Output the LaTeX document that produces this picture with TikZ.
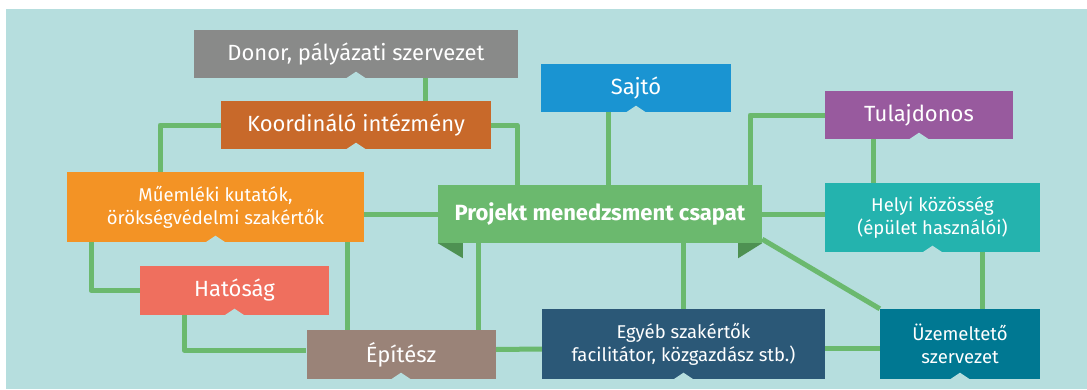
\documentclass[tikz,border=0pt]{standalone}
\usepackage{fontspec}
\setmainfont{Fira Sans}
\usepackage{tikz}
\usetikzlibrary{backgrounds}

\definecolor{bgcol}{HTML}{B6DEDE}
\definecolor{linkcol}{HTML}{6BB96E}
\definecolor{foldcol}{HTML}{4E9152}
\definecolor{donorcol}{HTML}{898A89}
\definecolor{koordcol}{HTML}{C8692A}
\definecolor{sajtocol}{HTML}{1A94D2}
\definecolor{tulajcol}{HTML}{985A9E}
\definecolor{muemcol}{HTML}{F39325}
\definecolor{helyicol}{HTML}{24B3AE}
\definecolor{hatcol}{HTML}{EF6F5E}
\definecolor{epitcol}{HTML}{9A8378}
\definecolor{egyebcol}{HTML}{2B5877}
\definecolor{uzemcol}{HTML}{007892}

\tikzset{
  box/.style={rectangle,inner sep=0pt,text=white,align=center,
    font=\fontsize{22}{26}\selectfont},
  smallbox/.style={box,font=\fontsize{18.5}{23}\selectfont},
  link/.style={linkcol,line width=5pt,line join=round}
}

\begin{document}
\begin{tikzpicture}[x=1pt,y=-1pt]
\useasboundingbox (0,0) rectangle (1087,389);

% boxes
\node[box,fill=donorcol,minimum width=324pt,minimum height=48pt] (donor) at (356,54) {Donor, pályázati szervezet};
\node[box,fill=koordcol,minimum width=270pt,minimum height=48pt] (koord) at (356,125) {Koordináló intézmény};
\node[box,fill=sajtocol,minimum width=190pt,minimum height=48pt] (sajto) at (636,88) {Sajtó};
\node[box,fill=tulajcol,minimum width=188pt,minimum height=48pt] (tulaj) at (919,115) {Tulajdonos};
\node[smallbox,fill=muemcol,minimum width=297pt,minimum height=70pt] (muem) at (215.5,207) {Műemléki kutatók,\\örökségvédelmi szakértők};
\node[box,fill=linkcol,minimum width=324pt,minimum height=58pt,font=\fontsize{22}{26}\selectfont\bfseries] (proj) at (600,214) {Projekt menedzsment csapat};
\node[smallbox,fill=helyicol,minimum width=215pt,minimum height=69pt] (helyi) at (932.5,217.5) {Helyi közösség\\(épület használói)};
\node[box,fill=hatcol,minimum width=189pt,minimum height=49pt] (hatosag) at (234.5,290.5) {Hatóság};
\node[box,fill=epitcol,minimum width=189pt,minimum height=49pt] (epitesz) at (401,354.5) {Építész};
\node[smallbox,fill=egyebcol,minimum width=283pt,minimum height=70pt] (egyeb) at (683.5,344) {Egyéb szakértők\\facilitátor, közgazdász stb.)};
\node[smallbox,fill=uzemcol,minimum width=160pt,minimum height=70pt] (uzem) at (960,344) {Üzemeltető\\szervezet};

% notches under the boxes
\foreach \n in {donor,koord,sajto,tulaj,muem,helyi,hatosag,epitesz,egyeb,uzem}
  \fill[bgcol] ([xshift=-10.5pt,yshift=-0.5pt]\n.south) -- ([yshift=6.5pt]\n.south) -- ([xshift=10.5pt,yshift=-0.5pt]\n.south) -- cycle;

% folds of the main box
\fill[foldcol] (proj.south west) -- ++(25,0) -- ++(0,15) -- cycle;
\fill[foldcol] (proj.south east) -- ++(-24,0) -- ++(0,15) -- cycle;

% background and connectors
\begin{pgfonlayer}{background}
\fill[bgcol] (6,9) rectangle (1087,389);
\draw[link] ([xshift=69pt]donor.south) -- ([xshift=69pt]koord.north);
\draw[link] (koord.west) -| ([xshift=-55.5pt]muem.north);
\draw[link] (koord.east) -| ([xshift=-83pt]proj.north);
\draw[link] ([xshift=-28pt]sajto.south) -- ([xshift=8pt]proj.north);
\draw[link] (tulaj.west) -| ([xshift=150pt]proj.north);
\draw[link] ([xshift=-46pt]tulaj.south) -- ([xshift=-59.5pt]helyi.north);
\draw[link] (proj.west) -- (proj.west -| muem.east);
\draw[link] (proj.east) -- (proj.east -| helyi.west);
\draw[link] ([xshift=-124.5pt]muem.south) |- (hatosag.west);
\draw[link] ([xshift=131.5pt]muem.south) -- ([xshift=-54pt]epitesz.north);
\draw[link] ([xshift=-50.5pt]hatosag.south) |- ([yshift=4.5pt]epitesz.west);
\draw[link] ([xshift=-122pt]proj.south) -- ([xshift=77pt]epitesz.north);
\draw[link] ([yshift=5pt]epitesz.east) -- ([yshift=-5pt]egyeb.west);
\draw[link] (egyeb.north) -- (egyeb.north |- proj.south);
\draw[link] ([yshift=4pt]proj.south east) -- (uzem.north west);
\draw[link] ([yshift=-4pt]egyeb.east) -- ([yshift=-4pt]uzem.west);
\draw[link] ([xshift=49.5pt]helyi.south) -- ([xshift=22pt]uzem.north);
\end{pgfonlayer}
\end{tikzpicture}
\end{document}
